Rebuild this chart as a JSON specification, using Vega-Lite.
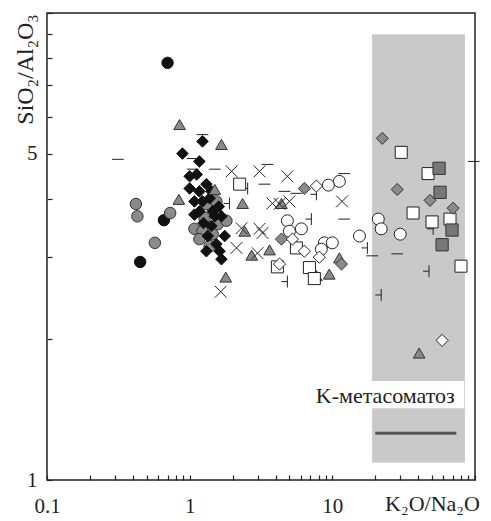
{
  "$schema": "https://vega.github.io/schema/vega-lite/v6.json",
  "width": 428,
  "height": 467,
  "autosize": {"type": "none"},
  "padding": {"left": 47, "top": 13, "right": 16, "bottom": 41},
  "background": "white",
  "config": {
    "view": {"stroke": "#222", "strokeWidth": 1.5},
    "font": "Liberation Serif",
    "axis": {"grid": false, "domain": false}
  },
  "layer": [
    {
      "data": {"values": [{"x1": 19, "x2": 85, "y1": 1.09, "y2": 9}]},
      "mark": {"type": "rect", "color": "#c9c9c9"},
      "encoding": {
        "x": {"field": "x1", "type": "quantitative", "scale": {"type": "log", "domain": [0.1, 100]},
          "axis": {"title": "K₂O/Na₂O", "values": [0.1,0.2,0.3,0.4,0.5,0.6,0.7,0.8,0.9,1,2,3,4,5,6,7,8,9,10,20,30,40,50,60,70,80,90,100],
            "labelExpr": "(datum.value == 0.1 || datum.value == 1 || datum.value == 10) ? datum.label : ''",
            "format": "~g", "tickSize": -5, "tickColor": "#222", "tickWidth": 1.2,
            "labelFontSize": 21, "labelColor": "#222", "labelBaseline": "middle", "labelPadding": 31,
            "labelOverlap": false, "labelFlush": false,
            "titleFontSize": 22, "titleFontWeight": "normal", "titleColor": "#222",
            "titleX": 385, "titleY": 23, "titleAlign": "center", "titleBaseline": "middle"}},
        "x2": {"field": "x2"},
        "y": {"field": "y1", "type": "quantitative", "scale": {"type": "log", "domain": [1, 10]},
          "axis": {"title": "SiO₂/Al₂O₃", "values": [1,2,3,4,5,6,7,8,9,10],
            "labelExpr": "(datum.value == 1 || datum.value == 5) ? datum.label : ''",
            "format": "~g", "tickSize": -5, "tickColor": "#222", "tickWidth": 1.2,
            "labelFontSize": 21, "labelColor": "#222", "labelBaseline": "middle", "labelPadding": 15,
            "labelOverlap": false, "labelFlush": false,
            "titleFontSize": 24, "titleFontWeight": "normal", "titleColor": "#222",
            "titleX": -22, "titleY": 56, "titleAngle": -90, "titleAlign": "center", "titleBaseline": "middle"}},
        "y2": {"field": "y2"}
      }
    },
    {
      "data": {"values": [{"x1": 20, "x2": 74, "y": 1.26}]},
      "mark": {"type": "rule", "color": "#555", "strokeWidth": 3},
      "encoding": {
        "x": {"field": "x1", "type": "quantitative"},
        "x2": {"field": "x2"},
        "y": {"field": "y", "type": "quantitative"}
      }
    },
    {
      "data": {"values": [{"x1": 6.7, "x2": 84, "y1": 1.424, "y2": 1.63}]},
      "mark": {"type": "rect", "color": "white"},
      "encoding": {
        "x": {"field": "x1", "type": "quantitative"},
        "x2": {"field": "x2"},
        "y": {"field": "y1", "type": "quantitative"},
        "y2": {"field": "y2"}
      }
    },
    {
      "data": {"values": [{"x": 23.5, "y": 1.51, "t": "K-метасоматоз"}]},
      "mark": {"type": "text", "fontSize": 22, "align": "center", "baseline": "middle", "color": "#222", "font": "Liberation Serif"},
      "encoding": {
        "x": {"field": "x", "type": "quantitative"},
        "y": {"field": "y", "type": "quantitative"},
        "text": {"field": "t"}
      }
    },
    {
      "data": {"values": [
        {"x": 0.70, "y": 7.82, "s": "bc"}, {"x": 0.66, "y": 3.60, "s": "bc"}, {"x": 0.45, "y": 2.93, "s": "bc"},
        {"x": 0.42, "y": 3.90, "s": "gc"}, {"x": 0.43, "y": 3.67, "s": "gc"}, {"x": 0.73, "y": 3.73, "s": "gc"}, {"x": 0.57, "y": 3.22, "s": "gc"},
        {"x": 1.08, "y": 3.45, "s": "gc"}, {"x": 1.23, "y": 3.41, "s": "gc"}, {"x": 1.57, "y": 3.53, "s": "gc"}, {"x": 1.81, "y": 3.59, "s": "gc"},
        {"x": 1.27, "y": 3.64, "s": "gc"}, {"x": 1.45, "y": 3.36, "s": "gc"}, {"x": 1.31, "y": 3.90, "s": "gc"}, {"x": 1.54, "y": 3.95, "s": "gc"},
        {"x": 1.17, "y": 3.28, "s": "gc"}, {"x": 1.38, "y": 3.17, "s": "gc"},
        {"x": 1.23, "y": 5.31, "s": "bd"}, {"x": 0.89, "y": 5.00, "s": "bd"}, {"x": 1.17, "y": 4.81, "s": "bd"}, {"x": 1.12, "y": 4.51, "s": "bd"},
        {"x": 1.00, "y": 4.21, "s": "bd"}, {"x": 1.17, "y": 4.15, "s": "bd"}, {"x": 1.31, "y": 4.30, "s": "bd"}, {"x": 1.38, "y": 4.01, "s": "bd"},
        {"x": 1.45, "y": 3.76, "s": "bd"}, {"x": 1.17, "y": 3.76, "s": "bd"}, {"x": 1.23, "y": 3.95, "s": "bd"}, {"x": 1.54, "y": 3.20, "s": "bd"},
        {"x": 1.67, "y": 2.97, "s": "bd"}, {"x": 1.62, "y": 3.09, "s": "bd"}, {"x": 1.42, "y": 3.50, "s": "bd"}, {"x": 1.08, "y": 3.95, "s": "bd"},
        {"x": 1.67, "y": 3.67, "s": "bd"}, {"x": 1.34, "y": 3.33, "s": "bd"},
        {"x": 1.50, "y": 3.67, "s": "bd"}, {"x": 1.08, "y": 3.70, "s": "bd"}, {"x": 1.76, "y": 3.33, "s": "bd"}, {"x": 1.31, "y": 3.09, "s": "bd"},
        {"x": 1.00, "y": 4.47, "s": "bd"}, {"x": 1.42, "y": 4.15, "s": "bd"}, {"x": 1.60, "y": 3.85, "s": "bd"}, {"x": 1.25, "y": 3.55, "s": "bd"},
        {"x": 0.85, "y": 5.77, "s": "gt"}, {"x": 1.67, "y": 5.23, "s": "gt"}, {"x": 0.84, "y": 3.99, "s": "gt"}, {"x": 1.79, "y": 2.72, "s": "gt"},
        {"x": 2.43, "y": 3.41, "s": "gt"}, {"x": 2.72, "y": 3.03, "s": "gt"}, {"x": 3.63, "y": 3.11, "s": "gt"}, {"x": 2.35, "y": 3.91, "s": "gt"},
        {"x": 4.40, "y": 3.91, "s": "gt"}, {"x": 7.73, "y": 2.74, "s": "gt"}, {"x": 9.52, "y": 2.76, "s": "gt"}, {"x": 11.2, "y": 2.99, "s": "gt"},
        {"x": 40.6, "y": 1.87, "s": "gt"}, {"x": 1.50, "y": 4.19, "s": "gt"},
        {"x": 0.314, "y": 4.86, "s": "da"}, {"x": 1.23, "y": 5.49, "s": "da"}, {"x": 1.05, "y": 4.88, "s": "da"}, {"x": 1.05, "y": 4.63, "s": "da"},
        {"x": 1.50, "y": 4.63, "s": "da"}, {"x": 3.51, "y": 4.74, "s": "da"}, {"x": 3.35, "y": 4.30, "s": "da"}, {"x": 4.62, "y": 4.15, "s": "da"},
        {"x": 5.60, "y": 4.11, "s": "da"}, {"x": 12.1, "y": 4.53, "s": "da"}, {"x": 12.1, "y": 3.62, "s": "da"}, {"x": 19.0, "y": 3.02, "s": "da"},
        {"x": 28.5, "y": 3.05, "s": "da"}, {"x": 98, "y": 4.81, "s": "da"},
        {"x": 1.97, "y": 4.58, "s": "x"}, {"x": 3.09, "y": 4.58, "s": "x"}, {"x": 4.84, "y": 4.47, "s": "x"}, {"x": 11.7, "y": 3.95, "s": "x"},
        {"x": 3.80, "y": 3.91, "s": "x"}, {"x": 5.00, "y": 3.95, "s": "x"}, {"x": 2.13, "y": 3.14, "s": "x"}, {"x": 2.99, "y": 3.06, "s": "x"},
        {"x": 3.24, "y": 3.38, "s": "x"}, {"x": 1.65, "y": 2.53, "s": "x"}, {"x": 2.31, "y": 3.46, "s": "x"}, {"x": 3.09, "y": 3.45, "s": "x"},
        {"x": 4.26, "y": 3.90, "s": "x"},
        {"x": 1.90, "y": 3.91, "s": "te"}, {"x": 7.73, "y": 4.09, "s": "te"}, {"x": 7.13, "y": 3.62, "s": "te"}, {"x": 4.84, "y": 2.66, "s": "te"},
        {"x": 17.6, "y": 3.14, "s": "te"}, {"x": 50.9, "y": 3.45, "s": "te"}, {"x": 47.6, "y": 2.80, "s": "te"}, {"x": 22.0, "y": 2.49, "s": "te"},
        {"x": 2.55, "y": 4.21, "s": "te"},
        {"x": 11.2, "y": 4.36, "s": "oc"}, {"x": 9.38, "y": 4.28, "s": "oc"}, {"x": 4.84, "y": 3.59, "s": "oc"}, {"x": 6.07, "y": 3.45, "s": "oc"},
        {"x": 5.00, "y": 3.41, "s": "oc"}, {"x": 8.79, "y": 3.22, "s": "oc"}, {"x": 10.0, "y": 3.22, "s": "oc"}, {"x": 8.37, "y": 3.12, "s": "oc"},
        {"x": 15.5, "y": 3.33, "s": "oc"}, {"x": 21.0, "y": 3.62, "s": "oc"}, {"x": 22.0, "y": 3.45, "s": "oc"}, {"x": 29.9, "y": 3.36, "s": "oc"},
        {"x": 2.24, "y": 4.30, "s": "os"}, {"x": 5.60, "y": 3.14, "s": "os"}, {"x": 4.12, "y": 2.86, "s": "os"}, {"x": 6.91, "y": 2.85, "s": "os"},
        {"x": 7.48, "y": 2.70, "s": "os"}, {"x": 30.4, "y": 5.03, "s": "os"}, {"x": 46.9, "y": 4.53, "s": "os"}, {"x": 36.8, "y": 3.73, "s": "os"},
        {"x": 66.8, "y": 3.62, "s": "os"}, {"x": 50.0, "y": 3.57, "s": "os"}, {"x": 79.8, "y": 2.87, "s": "os"},
        {"x": 6.37, "y": 4.21, "s": "gd"}, {"x": 4.40, "y": 3.28, "s": "gd"}, {"x": 11.6, "y": 2.90, "s": "gd"}, {"x": 22.4, "y": 5.39, "s": "gd"},
        {"x": 28.5, "y": 4.19, "s": "gd"}, {"x": 48.4, "y": 3.97, "s": "gd"}, {"x": 70.2, "y": 3.82, "s": "gd"},
        {"x": 7.73, "y": 4.26, "s": "od"}, {"x": 5.25, "y": 3.28, "s": "od"}, {"x": 6.37, "y": 3.09, "s": "od"}, {"x": 8.11, "y": 3.00, "s": "od"},
        {"x": 58.8, "y": 1.99, "s": "od"}, {"x": 4.26, "y": 2.90, "s": "od"},
        {"x": 56.0, "y": 4.65, "s": "gs"}, {"x": 56.9, "y": 4.13, "s": "gs"}, {"x": 69.0, "y": 3.43, "s": "gs"}, {"x": 58.8, "y": 3.19, "s": "gs"}
      ]},
      "mark": {"type": "point", "filled": true, "opacity": 1},
      "encoding": {
        "x": {"field": "x", "type": "quantitative"},
        "y": {"field": "y", "type": "quantitative"},
        "shape": {"field": "s", "type": "nominal", "legend": null, "scale": {
          "domain": ["bc","gc","bd","gt","da","x","te","oc","os","gd","od","gs"],
          "range": ["circle","circle","diamond","triangle-up","M -1 0 L 1 0","M -1 -1 L 1 1 M -1 1 L 1 -1","M -1 0 L 0 0 M 0 -1 L 0 1","circle","square","diamond","diamond","square"]}},
        "fill": {"field": "s", "type": "nominal", "legend": null, "scale": {
          "domain": ["bc","gc","bd","gt","da","x","te","oc","os","gd","od","gs"],
          "range": ["#111111","#8a8a8a","#111111","#8a8a8a","transparent","transparent","transparent","#ffffff","#ffffff","#8a8a8a","#ffffff","#777777"]}},
        "stroke": {"field": "s", "type": "nominal", "legend": null, "scale": {
          "domain": ["bc","gc","bd","gt","da","x","te","oc","os","gd","od","gs"],
          "range": ["#111111","#333333","#111111","#333333","#222222","#222222","#222222","#222222","#222222","#333333","#222222","#333333"]}},
        "size": {"field": "s", "type": "nominal", "legend": null, "scale": {
          "domain": ["bc","gc","bd","gt","da","x","te","oc","os","gd","od","gs"],
          "range": [130, 150, 120, 140, 64, 120, 70, 120, 110, 120, 120, 110]}},
        "strokeWidth": {"field": "s", "type": "nominal", "legend": null, "scale": {
          "domain": ["bc","gc","bd","gt","da","x","te","oc","os","gd","od","gs"],
          "range": [1, 1, 1, 1, 2, 1.2, 1.3, 1.1, 1.1, 1, 1.1, 1]}}
      }
    }
  ]
}
